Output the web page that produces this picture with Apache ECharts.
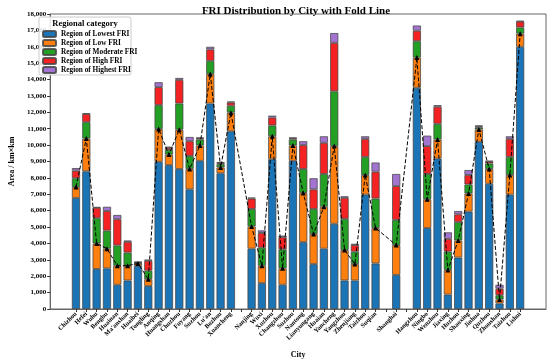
<!DOCTYPE html>
<html>
<head>
<meta charset="utf-8">
<script src="https://cdn.jsdelivr.net/npm/echarts@6/dist/echarts.min.js"></script>
<style>html,body{margin:0;padding:0;background:#fff;}#c{width:550px;height:364px;}</style>
</head>
<body>
<div id="c"></div>
<script>
// City categories ('' = spacer between provinces)
const cities = ['Chizhou','Hefei','Wuhu','Bengbu','Huainan',"Ma'anshan",'Huaibei','Tongling','Anqing','Huangshan','Chuzhou','Fuyang','Suzhou',"Lu'an",'Bozhou','Xuancheng',
  '', 'Nanjing','Wuxi','Xuzhou','Changzhou','Suzhou','Nantong','Lianyungang','Huaian','Yancheng','Yangzhou','Zhenjiang','Taizhou','Suqian',
  '', 'Shanghai', '',
  'Hangzhou','Ningbo','Wenzhou','Jiaxing','Huzhou','Shaoxing','Jinhua','Quzhou','Zhoushan','Taizhou','Lishui'];

const lowest   = [6780,8400,2440,2480,1480,1740,2640,1400,8980,8780,8540,7300,9040,12540,8280,10840, null, 3680,1580,9140,1480,9040,4080,2740,3680,5200,1740,1740,6980,2780, null, 2080, null, 13500,4940,9180,880,3140,5940,10200,7640,340,6980,16000];
const low      = [660,2000,1560,1200,1160,900,140,420,2000,640,2400,1240,940,1800,360,1140, null, 1360,1060,1400,1000,940,3000,1840,2560,4740,1860,1000,1200,2160, null, 1820, null, 1840,1760,1160,1500,1040,1100,760,900,240,1200,800];
const moderate = [540,1000,1540,1100,1240,800,40,520,1460,280,1600,800,360,800,200,420, null, 1060,1100,660,1160,360,1460,1520,2000,3340,1900,760,1100,1800, null, 1540, null, 1000,1540,960,1120,1120,560,120,340,260,1100,380];
const high     = [460,500,640,1200,1600,660,30,600,1100,140,1440,900,80,700,80,200, null, 640,900,480,740,80,1460,1200,1900,2960,1280,400,1100,1640, null, 2060, null, 640,1700,1040,780,480,580,60,120,400,1100,360];
const highest  = [160,40,40,260,260,80,30,80,300,60,120,260,40,160,40,60, null, 60,160,120,100,40,240,680,400,600,100,80,160,560, null, 740, null, 320,640,100,400,200,300,60,40,240,160,40];
// Fold line values
const foldLine = [7440,10400,4000,3680,2640,2640,2780,1820,10980,9420,10940,8540,9980,14340,8640,11980, null, 5040,2640,10540,2480,9980,7080,4580,6240,9940,3600,2740,8180,4940, null, 3900, null, 15340,6700,10340,2380,4180,7040,10960,8540,580,8180,16800];

const seriesNames = ['Region of Lowest FRI','Region of Low FRI','Region of Moderate FRI','Region of High FRI','Region of Highest FRI'];
const seriesColors = ['#1a74b6','#ff7f0e','#23a023','#f42222','#a374cf'];
const yTicks = [0, 18000, 1000]; // min, max, interval

const PAD = 2;
const padArr = v => Array(PAD).fill(v);
const xData = [...padArr(''), ...cities, ...padArr('')];
const pad = arr => [...padArr(null), ...arr, ...padArr(null)];

const FONT = "'Liberation Serif', 'DejaVu Serif', serif";
const chart = echarts.init(document.getElementById('c'), null, {renderer: 'canvas'});

const barSeries = [lowest, low, moderate, high, highest].map((d, i) => ({
  name: seriesNames[i],
  type: 'bar',
  stack: 'fri',
  data: pad(d),
  barWidth: '80%',
  itemStyle: {color: seriesColors[i], borderColor: 'rgba(70,70,70,0.85)', borderWidth: 0.9},
  emphasis: {disabled: true}
}));

chart.setOption({
  animation: false,
  backgroundColor: '#fff',
  title: {
    text: 'FRI Distribution by City with Fold Line',
    left: 291, top: 1, textAlign: 'center',
    textStyle: {fontFamily: FONT, fontWeight: 'bold', fontSize: 11, color: '#000'}
  },
  grid: {left: 36, right: 4, top: 14, bottom: 48, show: true, borderColor: '#666', borderWidth: 1, containLabel: false},
  legend: {
    data: seriesNames,
    orient: 'vertical', left: 42, top: 30, padding: 0, z: 10,
    itemWidth: 13, itemHeight: 6, itemGap: 1,
    textStyle: {fontFamily: FONT, fontWeight: 'bold', fontSize: 7.3, color: '#000'},
    selectedMode: false
  },
  graphic: [
    {type: 'rect', x: 39, y: 17, shape: {width: 92, height: 58, r: 2}, style: {fill: 'rgba(255,255,255,0.85)', stroke: '#ccc', lineWidth: 1}, z: 1},
    {type: 'text', x: 85, y: 23.5, style: {text: 'Regional category', textAlign: 'center', textVerticalAlign: 'middle', font: "bold 8.5px " + FONT, fill: '#000'}, z: 11}
  ],
  xAxis: {
    type: 'category',
    data: xData,
    name: 'City', nameLocation: 'middle', nameGap: 42,
    nameTextStyle: {fontFamily: FONT, fontWeight: 'bold', fontSize: 8, color: '#000'},
    axisLine: {show: true, lineStyle: {color: '#666'}},
    axisTick: {show: true, alignWithLabel: true, length: 3, lineStyle: {color: '#333'},
      interval: (i) => i >= PAD && i < PAD + cities.length},
    axisLabel: {interval: 0, rotate: 45, fontFamily: FONT, fontWeight: 'bold', fontSize: 6.5, color: '#000', margin: 4},
    splitLine: {show: false}
  },
  yAxis: {
    type: 'value', min: yTicks[0], max: yTicks[1], interval: yTicks[2],
    name: 'Area / km×km', nameLocation: 'middle', nameGap: 29,
    nameTextStyle: {fontFamily: FONT, fontWeight: 'bold', fontSize: 8, color: '#000'},
    axisLine: {show: true, lineStyle: {color: '#666'}},
    axisTick: {show: true, length: 3, lineStyle: {color: '#333'}},
    axisLabel: {fontFamily: FONT, fontWeight: 'bold', fontSize: 7, color: '#000', margin: 4,
      formatter: v => v.toLocaleString('en-US')},
    splitLine: {show: false}
  },
  series: [...barSeries, {
    name: 'Fold line', type: 'line', data: pad(foldLine), connectNulls: true,
    symbol: 'triangle', symbolSize: 5, z: 10,
    itemStyle: {color: '#000'},
    lineStyle: {color: '#000', width: 1, type: [4, 2]},
    emphasis: {disabled: true}
  }]
});
</script>
</body>
</html>
